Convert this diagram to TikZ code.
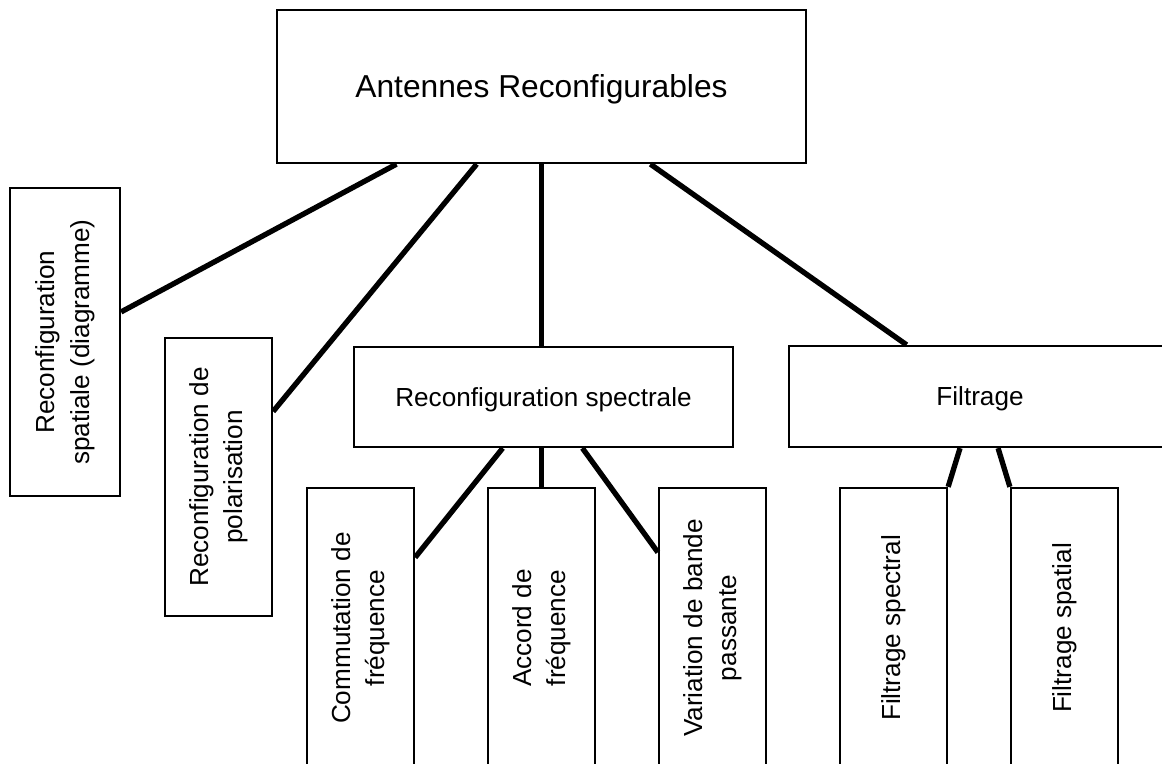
\documentclass[tikz,border=0pt]{standalone}
\usepackage{fontspec}
\setmainfont{Liberation Sans}
\usepackage{graphicx}
\usetikzlibrary{calc}
\newcommand{\vtext}[1]{\rotatebox{90}{\begin{tabular}{@{}c@{}}#1\end{tabular}}}

\begin{document}
\begin{tikzpicture}[x=0.75pt,y=-0.75pt,
  box/.style={draw,line width=1.7pt,inner sep=0pt,text depth=0pt,font=\fontsize{19.6}{26}\selectfont},
  tall/.style={box,minimum width=80.25pt,minimum height=210pt},
  link/.style={line width=4pt}]
\useasboundingbox (0,0) rectangle (1162,763);
\node[box,minimum width=396.75pt,minimum height=114.75pt,font=\fontsize{23.8}{28}\selectfont] (ant) at (541.5,86.5) {Antennes Reconfigurables};
\node[box,minimum width=82.5pt,minimum height=231pt] (spa) at (65,342) {\vtext{Reconfiguration\\spatiale (diagramme)}};
\node[box,minimum width=80.25pt,minimum height=208.5pt] (pol) at (218.5,477) {\vtext{Reconfiguration de\\polarisation}};
\node[box,minimum width=284.25pt,minimum height=75pt] (spe) at (543.5,397) {Reconfiguration spectrale};
\node[box,minimum width=286.5pt,minimum height=75.75pt] (fil) at (980,396.5) {Filtrage};
\node[tall] (com) at (360.5,628) {\vtext{Commutation de\\fréquence}};
\node[tall] (acc) at (541.5,628) {\vtext{Accord de\\fréquence}};
\node[tall] (var) at (712.5,628) {\vtext{Variation de bande\\passante}};
\node[tall] (fsp) at (893.5,628) {\vtext{Filtrage spectral}};
\node[tall] (fsa) at (1064.5,628) {\vtext{Filtrage spatial}};
\draw[link] ($(ant.south west)!0.227!(ant.south east)$) -- ($(spa.north east)!0.403!(spa.south east)$);
\draw[link] ($(ant.south west)!0.378!(ant.south east)$) -- ($(pol.north east)!0.266!(pol.south east)$);
\draw[link] (ant.south) -- (ant.south |- spe.north);
\draw[link] ($(ant.south west)!0.705!(ant.south east)$) -- ($(fil.north west)!0.309!(fil.north east)$);
\draw[link] ($(spe.south west)!0.393!(spe.south east)$) -- ($(com.north east)!0.25!(com.south east)$);
\draw[link] (acc.north |- spe.south) -- (acc.north);
\draw[link] ($(spe.south west)!0.602!(spe.south east)$) -- ($(var.north west)!0.232!(var.south west)$);
\draw[link] ($(fil.south west)!0.448!(fil.south east)$) -- (fsp.north east);
\draw[link] ($(fil.south west)!0.547!(fil.south east)$) -- (fsa.north west);
\end{tikzpicture}
\end{document}
